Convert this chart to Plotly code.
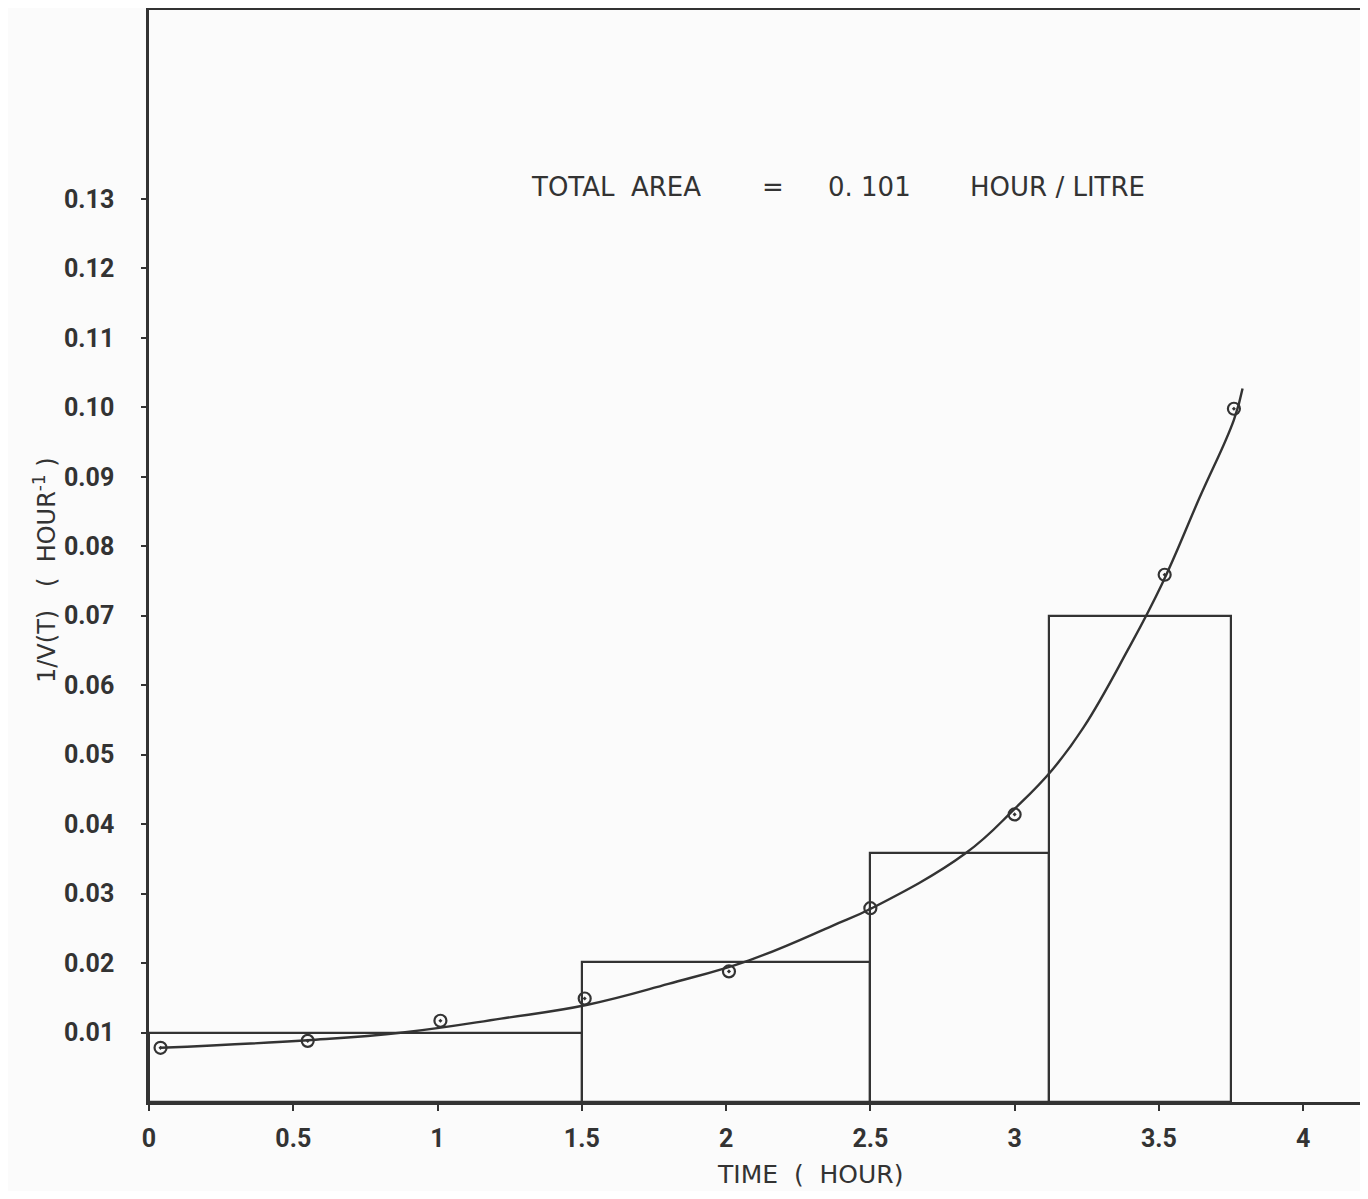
import plotly.graph_objects as go

# Measured points (time in hours, 1/V(t) in 1/hour)
time_pts = [0.04, 0.55, 1.01, 1.51, 2.01, 2.50, 3.00, 3.52, 3.76]
inv_v_pts = [0.0078, 0.0088, 0.0117, 0.0149, 0.0188, 0.0279, 0.0414, 0.0759, 0.0998]

# Hand-drawn smooth curve
curve_t = [0.04, 0.55, 0.88, 1.22, 1.52, 1.80, 2.08, 2.37, 2.51, 2.83, 3.00, 3.13, 3.24, 3.39, 3.51, 3.64, 3.76, 3.79]
curve_v = [0.0078, 0.0089, 0.0100, 0.0120, 0.0140, 0.0170, 0.0204, 0.0254, 0.0280, 0.0358, 0.0422, 0.0478, 0.0540, 0.0649, 0.0745, 0.0869, 0.0982, 0.1027]

# Rectangles used for the area estimate
bar_left = [0.0, 1.5, 2.5, 3.12]
bar_right = [1.5, 2.5, 3.12, 3.75]
bar_height = [0.0100, 0.0202, 0.0358, 0.0700]

x_ticks = [0, 0.5, 1, 1.5, 2, 2.5, 3, 3.5, 4]
x_tick_text = ["0", "0.5", "1", "1.5", "2", "2.5", "3", "3.5", "4"]
y_ticks = [0.01, 0.02, 0.03, 0.04, 0.05, 0.06, 0.07, 0.08, 0.09, 0.10, 0.11, 0.12, 0.13]
y_tick_text = ["0.01", "0.02", "0.03", "0.04", "0.05", "0.06", "0.07", "0.08", "0.09", "0.10", "0.11", "0.12", "0.13"]

INK = "#333333"
TICKFONT = "Roboto, DejaVu Sans, sans-serif"
WIDE = "DejaVu Sans, Liberation Sans, sans-serif"

# plot-area geometry (figure pixels) used to place free text
L, R, T, B = 141, 0, 2, 89
W, H = 1352, 1183
PW, PH = W - L - R, H - T - B
OFF = 8  # browser body margin


def px(page_x):
    return (page_x - OFF - L) / PW


def py(page_y):
    return (H - B + OFF - page_y) / PH


fig = go.Figure()

centers = [(a + b) / 2 for a, b in zip(bar_left, bar_right)]
widths = [b - a for a, b in zip(bar_left, bar_right)]
fig.add_trace(go.Bar(
    x=centers, y=bar_height, width=widths, base=0,
    marker=dict(color="rgba(0,0,0,0)", line=dict(color=INK, width=2.2)),
    showlegend=False, hoverinfo="skip",
))

fig.add_trace(go.Scatter(
    x=curve_t, y=curve_v, mode="lines",
    line=dict(color=INK, width=2.4, shape="spline", smoothing=1.2),
    showlegend=False, hoverinfo="skip",
))

fig.add_trace(go.Scatter(
    x=time_pts, y=inv_v_pts, mode="markers",
    marker=dict(symbol="circle-open-dot", size=12, color=INK, line=dict(color=INK, width=2.2)),
    showlegend=False,
))

title_font = dict(family=WIDE, size=26, color=INK)

fig.update_layout(
    width=W, height=H,
    margin=dict(l=L, r=R, t=T, b=B),
    paper_bgcolor="#fbfbfb", plot_bgcolor="#fbfbfb",
    bargap=0,
    xaxis=dict(
        range=[0, 4.197], tickvals=x_ticks, ticktext=x_tick_text,
        showgrid=False, zeroline=False,
        showline=True, linecolor=INK, linewidth=2.5, mirror=True,
        ticks="outside", ticklen=6, tickwidth=2, tickcolor=INK,
        ticklabelstandoff=6,
        tickfont=dict(family=TICKFONT, size=25, color=INK, weight="bold"),
    ),
    yaxis=dict(
        range=[0, 0.1572], tickvals=y_ticks, ticktext=y_tick_text,
        showgrid=False, zeroline=False,
        showline=True, linecolor=INK, linewidth=2.5,
        ticks="outside", ticklen=5, tickwidth=2, tickcolor=INK,
        ticklabelstandoff=22,
        tickfont=dict(family=TICKFONT, size=25, color=INK, weight="bold"),
    ),
    annotations=[
        dict(text="TOTAL  AREA", xref="paper", yref="paper", x=px(616), y=py(187),
             showarrow=False, xanchor="center", yanchor="middle", font=title_font),
        dict(text="=", xref="paper", yref="paper", x=px(773), y=py(187),
             showarrow=False, xanchor="center", yanchor="middle", font=title_font),
        dict(text="0. 101", xref="paper", yref="paper", x=px(869), y=py(187),
             showarrow=False, xanchor="center", yanchor="middle", font=title_font),
        dict(text="HOUR / LITRE", xref="paper", yref="paper", x=px(1057), y=py(187),
             showarrow=False, xanchor="center", yanchor="middle", font=title_font),
        dict(text="TIME  (  HOUR)", xref="paper", yref="paper",
             x=px(810), y=py(1174), showarrow=False, xanchor="center", yanchor="middle",
             font=dict(family=WIDE, size=25, color=INK)),
        dict(text="1/V(T)   (  HOUR<sup>-1</sup> )", xref="paper", yref="paper",
             x=px(45), y=py(570), showarrow=False, textangle=-90,
             xanchor="center", yanchor="middle",
             font=dict(family=WIDE, size=24, color=INK)),
    ],
)

fig.write_html("out.html")
